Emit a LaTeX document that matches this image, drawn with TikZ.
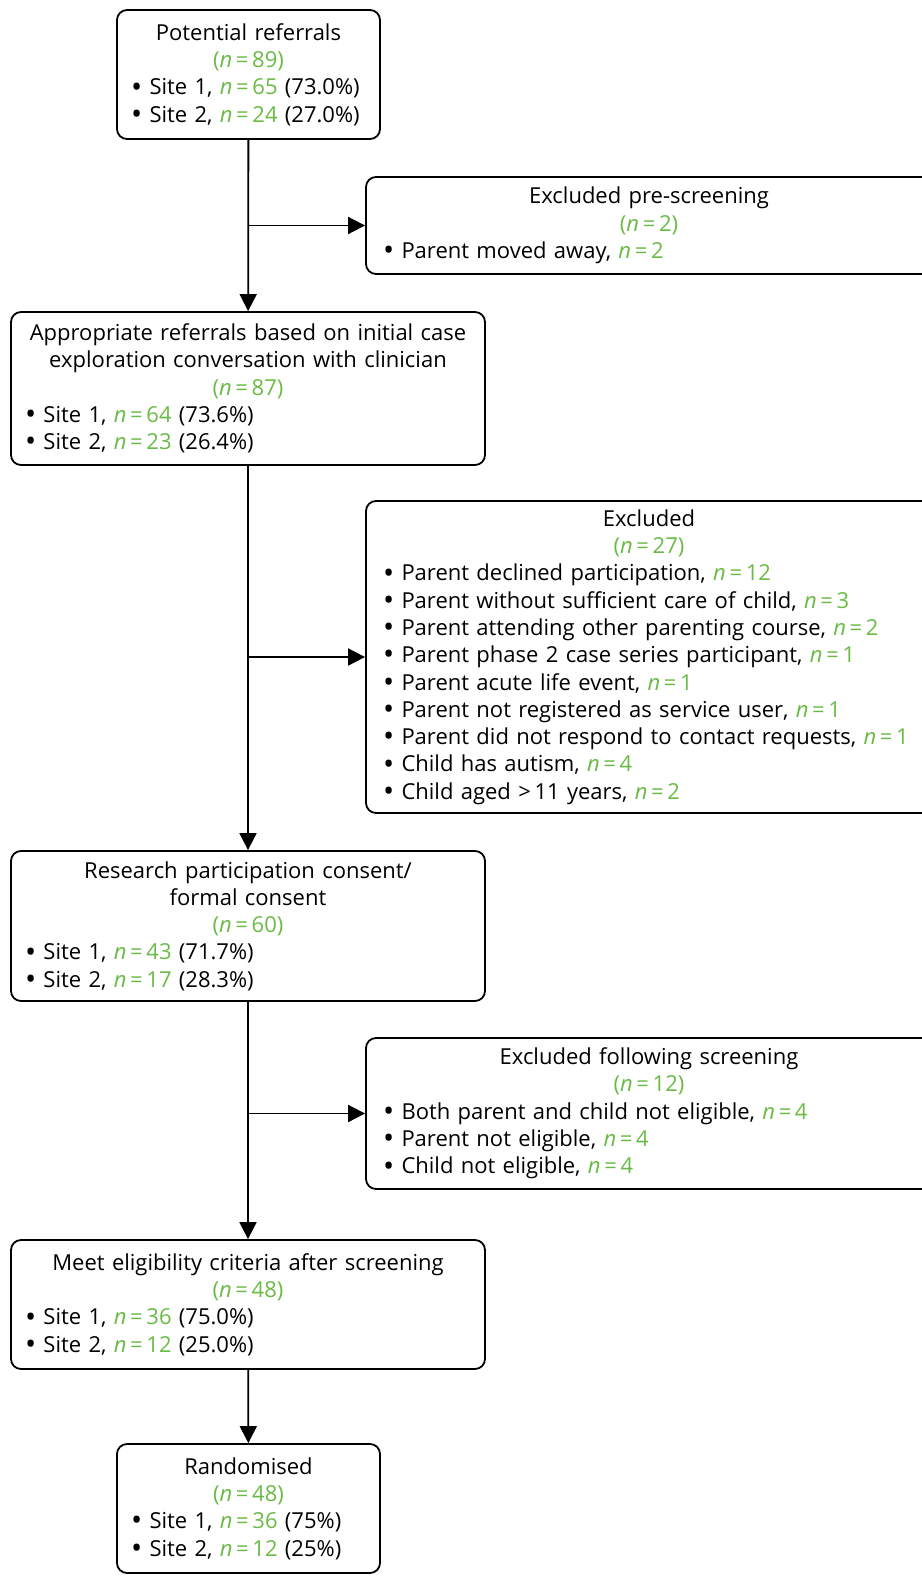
\documentclass[tikz,border=0pt]{standalone}
\usepackage{fontspec}
\setmainfont{Open Sans}
\usetikzlibrary{arrows.meta}
\definecolor{nGreen}{RGB}{106,187,69}
\newcommand{\nn}[1]{\textcolor{nGreen}{\textit{n}\,=\,#1}}
\newcommand{\nbr}[1]{\textcolor{nGreen}{(\textit{n}\,=\,#1)}}
\newcommand{\bul}{\raisebox{-0.1em}{\scalebox{1.35}{•}}\ }
\setlength{\parindent}{0pt}
\tikzset{
  flowbox/.style={draw, line width=1.8pt, rounded corners=10pt, inner xsep=14pt, inner ysep=0pt,
    font=\fontsize{22}{27.3}\selectfont},
  exclbox/.style={flowbox, inner xsep=17pt, text width=532pt, minimum width=566pt},
  flowarrow/.style={line width=1.8pt, -{Triangle[length=17pt,width=17pt]}},
}
\begin{document}
\begin{tikzpicture}[x=1pt,y=-1pt]
\useasboundingbox (0,0) rectangle (921,1578);

% Main column
\node[flowbox, text width=235pt, minimum height=129pt] (pot) at (248.5,74.5)
  {\centering Potential referrals\\ \nbr{89}\par\raggedright
   \bul Site 1, \nn{65} (73.0\%)\\ \bul Site 2, \nn{24} (27.0\%)};
\node[flowbox, text width=446pt, minimum height=153pt] (appr) at (248,388.5)
  {\centering Appropriate referrals based on initial case\\ exploration conversation with clinician\\ \nbr{87}\par\raggedright
   \bul Site 1, \nn{64} (73.6\%)\\ \bul Site 2, \nn{23} (26.4\%)};
\node[flowbox, text width=446pt, minimum height=150pt] (cons) at (248,926)
  {\centering Research participation consent/\\ formal consent\\ \nbr{60}\par\raggedright
   \bul Site 1, \nn{43} (71.7\%)\\ \bul Site 2, \nn{17} (28.3\%)};
\node[flowbox, text width=446pt, minimum height=129pt] (elig) at (248,1304.5)
  {\centering Meet eligibility criteria after screening\\ \nbr{48}\par\raggedright
   \bul Site 1, \nn{36} (75.0\%)\\ \bul Site 2, \nn{12} (25.0\%)};
\node[flowbox, text width=235pt, minimum height=129pt] (rand) at (248.5,1508.5)
  {\centering Randomised\\ \nbr{48}\par\raggedright
   \bul Site 1, \nn{36} (75\%)\\ \bul Site 2, \nn{12} (25\%)};

% Exclusion boxes
\node[exclbox, minimum height=97pt] (exa) at (649,225.5)
  {\centering Excluded pre-screening\\ \nbr{2}\par\raggedright
   \bul Parent moved away, \nn{2}};
\node[exclbox, minimum height=312pt] (exb) at (649,657)
  {\centering Excluded\\ \nbr{27}\par\raggedright
   \bul Parent declined participation, \nn{12}\\
   \bul Parent without sufficient care of child, \nn{3}\\
   \bul Parent attending other parenting course, \nn{2}\\
   \bul Parent phase 2 case series participant, \nn{1}\\
   \bul Parent acute life event, \nn{1}\\
   \bul Parent not registered as service user, \nn{1}\\
   \bul Parent did not respond to contact requests, \nn{1}\\
   \bul Child has autism, \nn{4}\\
   \bul Child aged >\,11 years, \nn{2}};
\node[exclbox, minimum height=151pt] (exc) at (649,1113.5)
  {\centering Excluded following screening\\ \nbr{12}\par\raggedright
   \bul Both parent and child not eligible, \nn{4}\\
   \bul Parent not eligible, \nn{4}\\
   \bul Child not eligible, \nn{4}};

% Arrows
\draw[flowarrow] (pot) -- (appr);
\draw[flowarrow] (appr) -- (cons);
\draw[flowarrow] (cons) -- (elig);
\draw[flowarrow] (elig) -- (rand);
\draw[flowarrow] (pot.south |- exa.west) -- (exa.west);
\draw[flowarrow] (appr.south |- exb.west) -- (exb.west);
\draw[flowarrow] (cons.south |- exc.west) -- (exc.west);
\end{tikzpicture}
\end{document}
